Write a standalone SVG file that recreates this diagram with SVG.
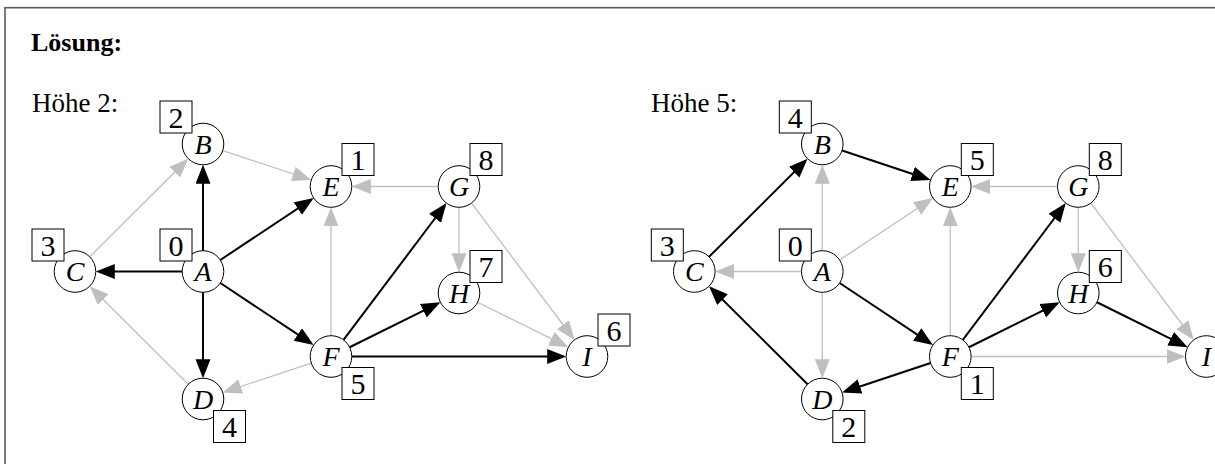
<svg xmlns="http://www.w3.org/2000/svg" width="1215" height="464" viewBox="0 0 1215 464">
  <defs>
    <style>
      .frame { fill: none; stroke: #5a5a5a; stroke-width: 1.6; }
      .title { font-family: "Liberation Serif", "DejaVu Serif", serif; font-weight: bold; font-size: 26px; fill: #000; }
      .head { font-family: "Liberation Serif", "DejaVu Serif", serif; font-size: 27px; fill: #000; }
      .node circle { fill: #fff; stroke: #000; stroke-width: 1; }
      .node text.v { font-family: "Liberation Serif", "DejaVu Serif", serif; font-style: italic; font-size: 28px; text-anchor: middle; fill: #000; }
      .node rect { fill: #fff; stroke: #000; stroke-width: 1; }
      .node text.n { font-family: "Liberation Serif", "DejaVu Serif", serif; font-size: 30px; text-anchor: middle; fill: #000; }
      .on { stroke: #000; stroke-width: 2; fill: none; marker-end: url(#tipBlack); }
      .off { stroke: #bfbfbf; stroke-width: 1.3; fill: none; marker-end: url(#tipGray); }
    </style>
    <marker id="tipBlack" markerUnits="userSpaceOnUse" markerWidth="20" markerHeight="16" refX="16" refY="7.5" orient="auto" viewBox="0 0 20 16">
      <path d="M0,0 L19,7.5 L0,15 Z" fill="#000"/>
    </marker>
    <marker id="tipGray" markerUnits="userSpaceOnUse" markerWidth="20" markerHeight="16" refX="16" refY="7.5" orient="auto" viewBox="0 0 20 16">
      <path d="M0,0 L19,7.5 L0,15 Z" fill="#bfbfbf"/>
    </marker>
  </defs>

  <rect width="1215" height="464" fill="#fff"/>
  <rect class="frame" x="5" y="7.7" width="1240" height="480"/>

  <text class="title" x="31" y="51">Lösung:</text>
  <text class="head" x="32" y="112">Höhe 2:</text>
  <text class="head" x="651" y="112">Höhe 5:</text>

  <!-- left graph: height 2 -->
  <g id="connectors-left">
    <line class="on" x1="203" y1="250.7" x2="203" y2="167.8"/>        <!-- A-B -->
    <line class="on" x1="182.2" y1="271.5" x2="98.8" y2="271.5"/>      <!-- A-C -->
    <line class="on" x1="203" y1="292.3" x2="203" y2="375.2"/>         <!-- A-D -->
    <line class="on" x1="220.33" y1="259.99" x2="311.17" y2="199.67"/> <!-- A-E -->
    <line class="on" x1="220.33" y1="283.01" x2="311.17" y2="343.33"/> <!-- A-F -->
    <line class="on" x1="343.51" y1="339.88" x2="444.68" y2="205.51"/> <!-- F-G -->
    <line class="on" x1="349.63" y1="347.26" x2="437.68" y2="303.58"/> <!-- F-H -->
    <line class="on" x1="351.8" y1="356.5" x2="563.2" y2="356.5"/>     <!-- F-I -->
    <line class="off" x1="89.74" y1="256.82" x2="186.14" y2="160.8"/>  <!-- C-B -->
    <line class="off" x1="222.74" y1="150.55" x2="308.41" y2="179"/>   <!-- B-E -->
    <line class="off" x1="438.2" y1="186.5" x2="354.8" y2="186.5"/>    <!-- G-E -->
    <line class="off" x1="331" y1="335.7" x2="331" y2="210.3"/>        <!-- F-E -->
    <line class="off" x1="188.26" y1="384.32" x2="91.86" y2="288.3"/>  <!-- D-C -->
    <line class="off" x1="311.26" y1="363.05" x2="225.59" y2="391.5"/> <!-- F-D -->
    <line class="off" x1="459" y1="207.3" x2="459" y2="269.2"/>        <!-- G-H -->
    <line class="off" x1="471.51" y1="203.12" x2="572.68" y2="337.49"/><!-- G-I -->
    <line class="off" x1="477.63" y1="302.24" x2="565.68" y2="345.92"/><!-- H-I -->
  </g>

  <g id="L-A" class="node"><circle cx="203" cy="271.5" r="20.8"/><text class="v" x="203" y="281">A</text><rect x="160" y="229" width="32" height="32"/><text class="n" x="176" y="255.5">0</text></g>
  <g id="L-B" class="node"><circle cx="203" cy="144" r="20.8"/><text class="v" x="203" y="153.5">B</text><rect x="160" y="101" width="32" height="32"/><text class="n" x="176" y="127.5">2</text></g>
  <g id="L-C" class="node"><circle cx="75" cy="271.5" r="20.8"/><text class="v" x="75" y="281">C</text><rect x="32" y="229" width="32" height="32"/><text class="n" x="48" y="255.5">3</text></g>
  <g id="L-D" class="node"><circle cx="203" cy="399" r="20.8"/><text class="v" x="203" y="408.5">D</text><rect x="213.5" y="410.5" width="32" height="32"/><text class="n" x="229.5" y="437">4</text></g>
  <g id="L-E" class="node"><circle cx="331" cy="186.5" r="20.8"/><text class="v" x="331" y="196">E</text><rect x="342" y="143.5" width="32" height="32"/><text class="n" x="358" y="170">1</text></g>
  <g id="L-F" class="node"><circle cx="331" cy="356.5" r="20.8"/><text class="v" x="331" y="366">F</text><rect x="342" y="367.5" width="32" height="32"/><text class="n" x="358" y="394">5</text></g>
  <g id="L-G" class="node"><circle cx="459" cy="186.5" r="20.8"/><text class="v" x="459" y="196">G</text><rect x="470" y="143.5" width="32" height="32"/><text class="n" x="486" y="170">8</text></g>
  <g id="L-H" class="node"><circle cx="459" cy="293" r="20.8"/><text class="v" x="459" y="302.5">H</text><rect x="470" y="250.5" width="32" height="32"/><text class="n" x="486" y="277">7</text></g>
  <g id="L-I" class="node"><circle cx="587" cy="356.5" r="20.8"/><text class="v" x="587" y="366">I</text><rect x="598" y="314" width="32" height="32"/><text class="n" x="614" y="340.5">6</text></g>

  <!-- right graph: height 5 (same layout, shifted) -->
  <g transform="translate(619.3,0)">
    <g id="connectors-right">
      <line class="off" x1="203" y1="250.7" x2="203" y2="167.8"/>        <!-- A-B -->
      <line class="off" x1="182.2" y1="271.5" x2="98.8" y2="271.5"/>      <!-- A-C -->
      <line class="off" x1="203" y1="292.3" x2="203" y2="375.2"/>         <!-- A-D -->
      <line class="off" x1="220.33" y1="259.99" x2="311.17" y2="199.67"/> <!-- A-E -->
      <line class="on" x1="220.33" y1="283.01" x2="311.17" y2="343.33"/>  <!-- A-F -->
      <line class="on" x1="343.51" y1="339.88" x2="444.68" y2="205.51"/>  <!-- F-G -->
      <line class="on" x1="349.63" y1="347.26" x2="437.68" y2="303.58"/>  <!-- F-H -->
      <line class="off" x1="351.8" y1="356.5" x2="563.2" y2="356.5"/>     <!-- F-I -->
      <line class="on" x1="89.74" y1="256.82" x2="186.14" y2="160.8"/>    <!-- C-B -->
      <line class="on" x1="222.74" y1="150.55" x2="308.41" y2="179"/>     <!-- B-E -->
      <line class="off" x1="438.2" y1="186.5" x2="354.8" y2="186.5"/>     <!-- G-E -->
      <line class="off" x1="331" y1="335.7" x2="331" y2="210.3"/>         <!-- F-E -->
      <line class="on" x1="188.26" y1="384.32" x2="91.86" y2="288.3"/>    <!-- D-C -->
      <line class="on" x1="311.26" y1="363.05" x2="225.59" y2="391.5"/>   <!-- F-D -->
      <line class="off" x1="459" y1="207.3" x2="459" y2="269.2"/>         <!-- G-H -->
      <line class="off" x1="471.51" y1="203.12" x2="572.68" y2="337.49"/> <!-- G-I -->
      <line class="on" x1="477.63" y1="302.24" x2="565.68" y2="345.92"/>  <!-- H-I -->
    </g>

    <g id="R-A" class="node"><circle cx="203" cy="271.5" r="20.8"/><text class="v" x="203" y="281">A</text><rect x="160" y="229" width="32" height="32"/><text class="n" x="176" y="255.5">0</text></g>
    <g id="R-B" class="node"><circle cx="203" cy="144" r="20.8"/><text class="v" x="203" y="153.5">B</text><rect x="160" y="101" width="32" height="32"/><text class="n" x="176" y="127.5">4</text></g>
    <g id="R-C" class="node"><circle cx="75" cy="271.5" r="20.8"/><text class="v" x="75" y="281">C</text><rect x="32" y="229" width="32" height="32"/><text class="n" x="48" y="255.5">3</text></g>
    <g id="R-D" class="node"><circle cx="203" cy="399" r="20.8"/><text class="v" x="203" y="408.5">D</text><rect x="213.5" y="410.5" width="32" height="32"/><text class="n" x="229.5" y="437">2</text></g>
    <g id="R-E" class="node"><circle cx="331" cy="186.5" r="20.8"/><text class="v" x="331" y="196">E</text><rect x="342" y="143.5" width="32" height="32"/><text class="n" x="358" y="170">5</text></g>
    <g id="R-F" class="node"><circle cx="331" cy="356.5" r="20.8"/><text class="v" x="331" y="366">F</text><rect x="342" y="367.5" width="32" height="32"/><text class="n" x="358" y="394">1</text></g>
    <g id="R-G" class="node"><circle cx="459" cy="186.5" r="20.8"/><text class="v" x="459" y="196">G</text><rect x="470" y="143.5" width="32" height="32"/><text class="n" x="486" y="170">8</text></g>
    <g id="R-H" class="node"><circle cx="459" cy="293" r="20.8"/><text class="v" x="459" y="302.5">H</text><rect x="470" y="250.5" width="32" height="32"/><text class="n" x="486" y="277">6</text></g>
    <g id="R-I" class="node"><circle cx="587" cy="356.5" r="20.8"/><text class="v" x="587" y="366">I</text></g>
  </g>
</svg>
